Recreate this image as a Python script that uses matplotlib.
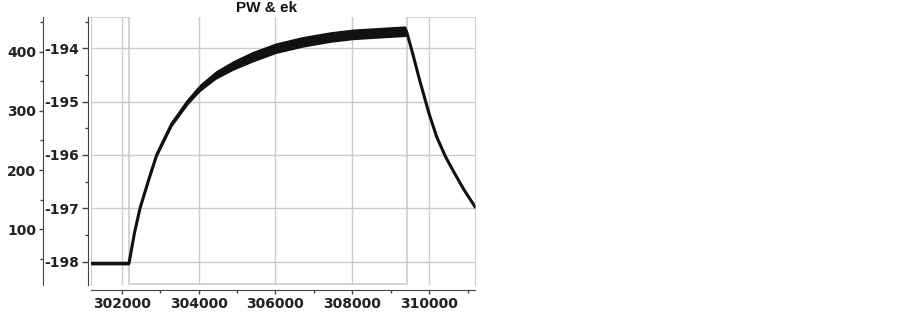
import matplotlib
matplotlib.use("Agg")
import matplotlib.pyplot as plt
from matplotlib.ticker import MultipleLocator, FuncFormatter

# ---- data ----------------------------------------------------------------
# ek trace: centre of the noisy band and its half-width
ek_t = [301202, 301600, 302000, 302190, 302330, 302476, 302700, 302910,
        303300, 303716, 304036, 304450, 304902, 305400, 306000, 306700,
        307418, 308000, 308892, 309380, 309414, 309550, 309758, 310000,
        310193, 310414, 310624, 310900, 311189]
ek_mid = [-198.03, -198.03, -198.03, -198.03, -197.47, -197.00, -196.47, -196.00,
          -195.42, -195.00, -194.74, -194.50, -194.32, -194.16, -194.00, -193.88,
          -193.79, -193.74, -193.70, -193.68, -193.70, -194.05, -194.62, -195.24,
          -195.66, -196.02, -196.30, -196.65, -196.97]
ek_spread = [0.03, 0.03, 0.03, 0.03, 0.02, 0.02, 0.03, 0.04,
             0.05, 0.06, 0.07, 0.08, 0.09, 0.10, 0.10, 0.10,
             0.10, 0.10, 0.10, 0.10, 0.06, 0.03, 0.03, 0.03,
             0.03, 0.03, 0.03, 0.03, 0.03]

# PW trace (step signal)
pw_t = [301202, 302190, 302190, 309414, 309414, 311189]
pw = [458, 458, 7, 7, 458, 458]

PX = 0.72  # points per pixel at dpi 100
GRID = "#cccccc"
SPINE = "#444444"

plt.rcParams["font.family"] = "DejaVu Sans"
plt.rcParams["font.weight"] = "bold"
plt.rcParams["font.size"] = 9.5

fig = plt.figure(figsize=(9.03, 3.12), dpi=100)
rect = [91 / 903, 1 - 285 / 312, 384 / 903, 268.3 / 312]

# light frame (left/right edges of the plot area)
frame = fig.add_axes(rect)
frame.set_xticks([]); frame.set_yticks([])
frame.spines[["top", "bottom"]].set_visible(False)
frame.spines[["left", "right"]].set_color(GRID)
frame.patch.set_visible(False)

# ---- PW on outer left axis -----------------------------------------------
axp = fig.add_axes(rect)
axp.patch.set_visible(False)
axp.plot(pw_t, pw, color=GRID, lw=1.2)
axp.set_xlim(301202, 311189)
axp.set_ylim(5.9, 459.1)
axp.set_xticks([])
for s in ["top", "right", "bottom"]:
    axp.spines[s].set_visible(False)
axp.spines["left"].set_position(("outward", 48 * PX))
axp.spines["left"].set_color(SPINE)
axp.yaxis.set_major_locator(MultipleLocator(100))
axp.yaxis.set_minor_locator(MultipleLocator(50))
axp.tick_params(axis="y", which="major", length=4 * PX, width=1, color=SPINE,
                pad=2, labelcolor="#222222", labelsize=10)
axp.tick_params(axis="y", which="minor", length=3 * PX, width=1, color=SPINE)

# ---- ek on inner left axis -----------------------------------------------
ax = fig.add_axes(rect)
ax.patch.set_visible(False)
lo = [m - s for m, s in zip(ek_mid, ek_spread)]
hi = [m + s for m, s in zip(ek_mid, ek_spread)]
ax.fill_between(ek_t, lo, hi, color="#111111", lw=0, zorder=3)
ax.plot(ek_t, ek_mid, color="#111111", lw=2.2, zorder=3)
ax.set_xlim(301202, 311189)
ax.set_ylim(-198.437, -193.408)
ax.grid(True, color=GRID, lw=1)
ax.set_axisbelow(True)
for s in ["top", "right"]:
    ax.spines[s].set_visible(False)
ax.spines["left"].set_position(("outward", 3 * PX))
ax.spines["bottom"].set_position(("outward", 5 * PX))
ax.spines["left"].set_color(SPINE)
ax.spines["bottom"].set_color(SPINE)
ax.xaxis.set_major_locator(MultipleLocator(2000))
ax.xaxis.set_minor_locator(MultipleLocator(1000))
ax.yaxis.set_major_locator(MultipleLocator(1))
ax.yaxis.set_minor_locator(MultipleLocator(0.5))
ax.yaxis.set_major_formatter(FuncFormatter(lambda v, p: f"{v:.0f}"))
ax.tick_params(axis="y", which="major", length=6 * PX, width=1, color=SPINE,
               pad=2, labelcolor="#222222", labelsize=10)
ax.tick_params(axis="y", which="minor", length=3 * PX, width=1, color=SPINE)
ax.tick_params(axis="x", which="major", length=4 * PX, width=1, color=SPINE,
               pad=2, labelcolor="#222222", labelsize=10)
ax.tick_params(axis="x", which="minor", length=3 * PX, width=1, color=SPINE)

fig.text(267 / 903, 1 - 8 / 312, "PW & ek", ha="center", va="center",
         family="Liberation Sans", weight="bold", fontsize=11, color="#111111")

fig.savefig("out.png", dpi=100)
